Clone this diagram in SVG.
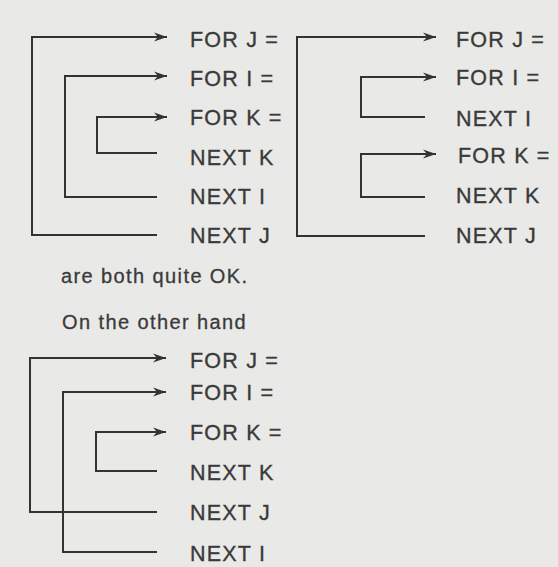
<svg xmlns="http://www.w3.org/2000/svg" width="558" height="567" viewBox="0 0 558 567">
<defs>
<style>
.t{font-family:"Liberation Sans",Arial,sans-serif;font-size:21.5px;letter-spacing:1.2px;fill:#3a3a3a;stroke:#3a3a3a;stroke-width:0.35}
.p{font-family:"Liberation Sans",Arial,sans-serif;font-size:20px;letter-spacing:1.4px;fill:#3a3a3a;stroke:#3a3a3a;stroke-width:0.3}
.c{fill:none;stroke:#333;stroke-width:2}
.a{marker-end:url(#ah)}
</style>
<marker id="ah" markerUnits="userSpaceOnUse" markerWidth="14" markerHeight="12" refX="13" refY="6" orient="auto">
<path d="M0,1.5 L13,6 L0,10.5 L4,6 z" fill="#333"/>
</marker>
</defs>
<rect width="558" height="567" fill="#e9e9e7"/>
<g id="connectors">
<polyline class="c" points="157,235 32,235 32,37 160,37"/>
<path class="c a" d="M150,37 L167,37"/>
<polyline class="c" points="157,197 65,197 65,76 160,76"/>
<path class="c a" d="M150,76 L167,76"/>
<polyline class="c" points="157,153 97,153 97,117 160,117"/>
<path class="c a" d="M150,117 L167,117"/>
<polyline class="c" points="425,236 297,236 297,37 430,37"/>
<path class="c a" d="M420,37 L436,37"/>
<polyline class="c" points="425,117 361,117 361,77 430,77"/>
<path class="c a" d="M420,77 L436,77"/>
<polyline class="c" points="425,197 361,197 361,154 430,154"/>
<path class="c a" d="M420,154 L436,154"/>
<polyline class="c" points="157,512 30,512 30,358 160,358"/>
<path class="c a" d="M150,358 L166,358"/>
<polyline class="c" points="157,552 63,552 63,392 160,392"/>
<path class="c a" d="M150,392 L166,392"/>
<polyline class="c" points="157,471 96,471 96,432 160,432"/>
<path class="c a" d="M150,432 L166,432"/>
</g>
<g id="left-top">
<text class="t" x="190" y="47">FOR J =</text>
<text class="t" x="190" y="86">FOR I =</text>
<text class="t" x="190" y="125">FOR K =</text>
<text class="t" x="190" y="165">NEXT K</text>
<text class="t" x="190" y="204">NEXT I</text>
<text class="t" x="190" y="243">NEXT J</text>
</g>
<g id="right-top">
<text class="t" x="456" y="47">FOR J =</text>
<text class="t" x="456" y="85">FOR I =</text>
<text class="t" x="456" y="126">NEXT I</text>
<text class="t" x="458" y="163">FOR K =</text>
<text class="t" x="456" y="203">NEXT K</text>
<text class="t" x="456" y="243">NEXT J</text>
</g>
<g id="prose">
<text class="p" x="61" y="283">are both quite OK.</text>
<text class="p" x="62" y="329">On the other hand</text>
</g>
<g id="left-bottom">
<text class="t" x="190" y="368">FOR J =</text>
<text class="t" x="190" y="400">FOR I =</text>
<text class="t" x="190" y="440">FOR K =</text>
<text class="t" x="190" y="480">NEXT K</text>
<text class="t" x="190" y="520">NEXT J</text>
<text class="t" x="190" y="561">NEXT I</text>
</g>
</svg>
